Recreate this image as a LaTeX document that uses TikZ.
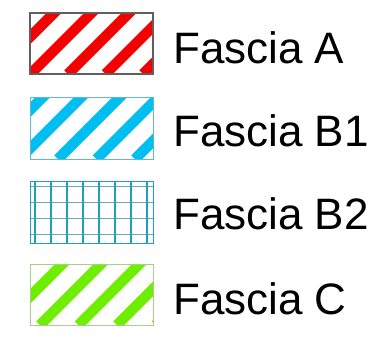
\documentclass[tikz,border=0pt]{standalone}
\usepackage{fontspec}
\setmainfont{Liberation Sans}
\definecolor{fasciaA}{RGB}{245,0,0}
\definecolor{fasciaB}{RGB}{0,190,240}
\definecolor{gridV}{RGB}{30,160,190}
\definecolor{gridH}{RGB}{110,170,180}
\definecolor{fasciaC}{RGB}{110,238,0}
\definecolor{frameA}{RGB}{95,95,95}
\definecolor{frameB}{RGB}{100,185,200}
\definecolor{frameC}{RGB}{170,205,140}
\tikzset{
  legendtext/.style={anchor=base west, inner sep=0pt, font=\fontsize{44}{44}\selectfont},
  stripe/.style={line width=10.5pt}
}
\begin{document}
\begin{tikzpicture}[x=1pt, y=-1pt]
  \useasboundingbox (0,0) rectangle (382,348);

  % Fascia A: red stripes
  \begin{scope}
    \clip (30,13) rectangle (153,74);
    \foreach \c in {-7,30.5,...,145} \draw[stripe, fasciaA] (\c,74) -- ++(70,-70);
  \end{scope}
  \draw[frameA, line width=2pt] (30,13) rectangle (153,74);
  \node[legendtext] (labA) at (173,63) {Fascia A};

  % Fascia B1: blue stripes
  \begin{scope}
    \clip (30,97) rectangle (153,159);
    \foreach \c in {-19,19.5,...,137} \draw[stripe, fasciaB] (\c,159) -- ++(70,-70);
  \end{scope}
  \draw[frameB, line width=1pt] (30,97) rectangle (153,159);
  \node[legendtext] (labBa) at (173,146) {Fascia B1};

  % Fascia B2: grid
  \foreach \y in {186,202,218,234} \draw[gridH, line width=1pt] (30,\y) -- (153,\y);
  \foreach \x in {35,51,...,147} \draw[gridV, line width=1.6pt] (\x,181) -- (\x,243);
  \draw[gridV, line width=1pt] (30,181) rectangle (153,243);
  \node[legendtext] (labBb) at (173,229) {Fascia B2};

  % Fascia C: green stripes
  \begin{scope}
    \clip (30,264) rectangle (153,325);
    \foreach \c in {1.5,40,...,157} \draw[stripe, fasciaC] (\c,325) -- ++(70,-70);
  \end{scope}
  \draw[frameC, line width=1pt] (30,264) rectangle (153,325);
  \node[legendtext] (labC) at (173,314) {Fascia C};
\end{tikzpicture}
\end{document}
